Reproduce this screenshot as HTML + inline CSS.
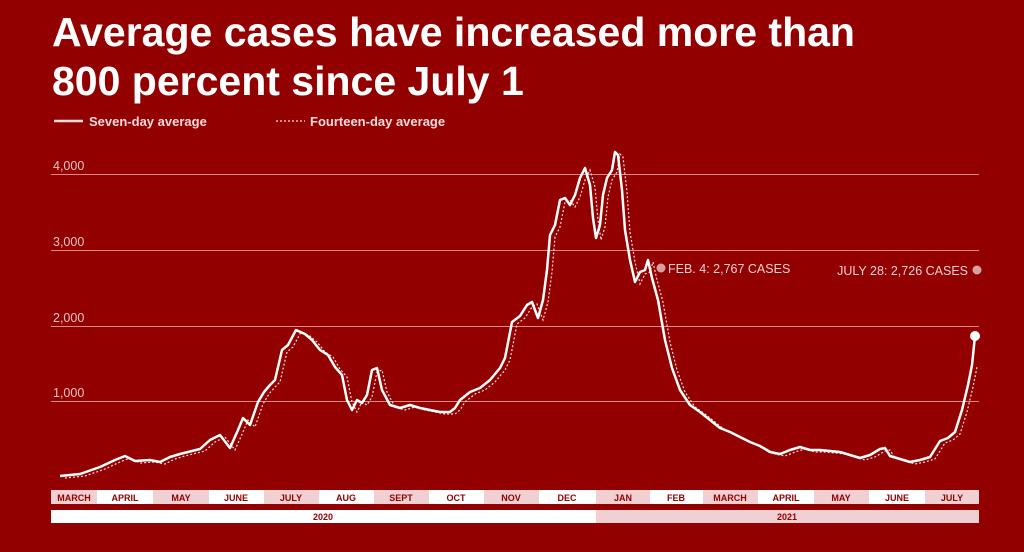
<!DOCTYPE html><html><head><style>
body{margin:0;width:1024px;height:552px;background:#930000;overflow:hidden;font-family:"Liberation Sans",sans-serif}
</style></head><body>
<svg width="1024" height="552" xmlns="http://www.w3.org/2000/svg" style="position:absolute;left:0;top:0">
<text x="52" y="46" fill="#fff" font-size="41" font-weight="bold">Average cases have increased more than</text>
<text x="52" y="95" fill="#fff" font-size="41" font-weight="bold">800 percent since July 1</text>
<line x1="54" y1="121" x2="83" y2="121" stroke="#f4dcdc" stroke-width="2.5"/>
<text x="89" y="126" fill="#f4dcdc" font-size="13" font-weight="bold">Seven-day average</text>
<line x1="276" y1="121" x2="305" y2="121" stroke="#f4dcdc" stroke-width="1.2" stroke-dasharray="2,2"/>
<text x="310" y="126" fill="#f4dcdc" font-size="13" font-weight="bold">Fourteen-day average</text>
<g stroke="#d88a8a" stroke-width="1">
<line x1="51" y1="174.5" x2="979" y2="174.5"/><line x1="51" y1="250.5" x2="979" y2="250.5"/>
<line x1="51" y1="326.5" x2="979" y2="326.5"/><line x1="51" y1="401.5" x2="979" y2="401.5"/></g>
<g fill="#e8c0c0" font-size="12.5">
<text x="53" y="170">4,000</text><text x="53" y="246">3,000</text><text x="53" y="322">2,000</text><text x="53" y="397">1,000</text></g>
<polyline fill="none" stroke="#f4dcdc" stroke-width="1.2" stroke-dasharray="2,2" transform="translate(5,2)" points="60,476 80,474 100,467 115,460 125,456 135,461 150,460 160,462 170,457 180,454 200,449 210,440 220,435 230,448 238,430 243,418 250,425 258,402 264,392 270,385 275,380 282,350 288,345 296,330 305,334 312,340 320,350 328,355 335,367 342,375 347,400 352,410 357,400 362,403 367,395 372,370 377,368 382,390 390,405 400,408 410,405 420,408 430,410 440,412 450,412 455,408 460,400 470,392 480,388 490,380 500,368 505,358 512,322 520,316 527,305 532,302 538,318 543,300 547,270 550,235 555,225 560,200 565,198 570,205 575,195 580,178 585,168 590,185 593,218 596,238 600,225 603,195 607,178 612,170 615,152 618,155 622,190 625,230 630,260 635,282 640,272 645,270 648,260 652,278 658,300 665,340 672,368 680,390 690,405 700,412 710,420 720,428 730,432 740,437 750,442 760,446 770,452 780,454 790,450 800,447 810,450 820,450 830,451 840,452 850,455 860,458 870,455 880,449 885,448 890,456 900,459 910,462 920,460 930,457 940,441 948,438 955,432 962,410 968,385 972,365"/>
<polyline fill="none" stroke="#fff" stroke-width="2.5" stroke-linejoin="round" points="60,476 80,474 100,467 115,460 125,456 135,461 150,460 160,462 170,457 180,454 200,449 210,440 220,435 230,448 238,430 243,418 250,425 258,402 264,392 270,385 275,380 282,350 288,345 296,330 305,334 312,340 320,350 328,355 335,367 342,375 347,400 352,410 357,400 362,403 367,395 372,370 377,368 382,390 390,405 400,408 410,405 420,408 430,410 440,412 450,412 455,408 460,400 470,392 480,388 490,380 500,368 505,358 512,322 520,316 527,305 532,302 538,318 543,300 547,270 550,235 555,225 560,200 565,198 570,205 575,195 580,178 585,168 590,185 593,218 596,238 600,225 603,195 607,178 612,170 615,152 618,155 622,190 625,230 630,260 635,282 640,272 645,270 648,260 652,278 658,300 665,340 672,368 680,390 690,405 700,412 710,420 720,428 730,432 740,437 750,442 760,446 770,452 780,454 790,450 800,447 810,450 820,450 830,451 840,452 850,455 860,458 870,455 880,449 885,448 890,456 900,459 910,462 920,460 930,457 940,441 948,438 955,432 962,410 968,385 972,365 975,336"/>
<circle cx="975" cy="336" r="5" fill="#fff"/>
<circle cx="661" cy="268" r="4.5" fill="#d9a0a0"/>
<circle cx="977" cy="270" r="4.5" fill="#d9a0a0"/>
<text x="668" y="273" fill="#f0d0d0" font-size="12.5">FEB. 4: 2,767 CASES</text>
<text x="968" y="275" fill="#f0d0d0" font-size="12.5" text-anchor="end">JULY 28: 2,726 CASES</text>
<g font-size="9" font-weight="bold" fill="#930000" text-anchor="middle">
<rect x="51" y="490" width="46" height="14" fill="#f0d0d3"/><text x="74" y="501">MARCH</text>
<rect x="97" y="490" width="56" height="14" fill="#fff"/><text x="125" y="501">APRIL</text>
<rect x="153" y="490" width="56" height="14" fill="#f0d0d3"/><text x="181" y="501">MAY</text>
<rect x="209" y="490" width="55" height="14" fill="#fff"/><text x="236" y="501">JUNE</text>
<rect x="264" y="490" width="55" height="14" fill="#f0d0d3"/><text x="291" y="501">JULY</text>
<rect x="319" y="490" width="55" height="14" fill="#fff"/><text x="346" y="501">AUG</text>
<rect x="374" y="490" width="55" height="14" fill="#f0d0d3"/><text x="401" y="501">SEPT</text>
<rect x="429" y="490" width="55" height="14" fill="#fff"/><text x="456" y="501">OCT</text>
<rect x="484" y="490" width="55" height="14" fill="#f0d0d3"/><text x="511" y="501">NOV</text>
<rect x="539" y="490" width="57" height="14" fill="#fff"/><text x="567" y="501">DEC</text>
<rect x="596" y="490" width="54" height="14" fill="#f0d0d3"/><text x="623" y="501">JAN</text>
<rect x="650" y="490" width="53" height="14" fill="#fff"/><text x="676" y="501">FEB</text>
<rect x="703" y="490" width="55" height="14" fill="#f0d0d3"/><text x="730" y="501">MARCH</text>
<rect x="758" y="490" width="56" height="14" fill="#fff"/><text x="786" y="501">APRIL</text>
<rect x="814" y="490" width="55" height="14" fill="#f0d0d3"/><text x="841" y="501">MAY</text>
<rect x="869" y="490" width="56" height="14" fill="#fff"/><text x="897" y="501">JUNE</text>
<rect x="925" y="490" width="54" height="14" fill="#f0d0d3"/><text x="952" y="501">JULY</text>
<rect x="51" y="510" width="545" height="13" fill="#fff"/><text x="323" y="520">2020</text>
<rect x="596" y="510" width="383" height="13" fill="#f0d0d3"/><text x="787" y="520">2021</text>
</g>
</svg>
</body></html>
